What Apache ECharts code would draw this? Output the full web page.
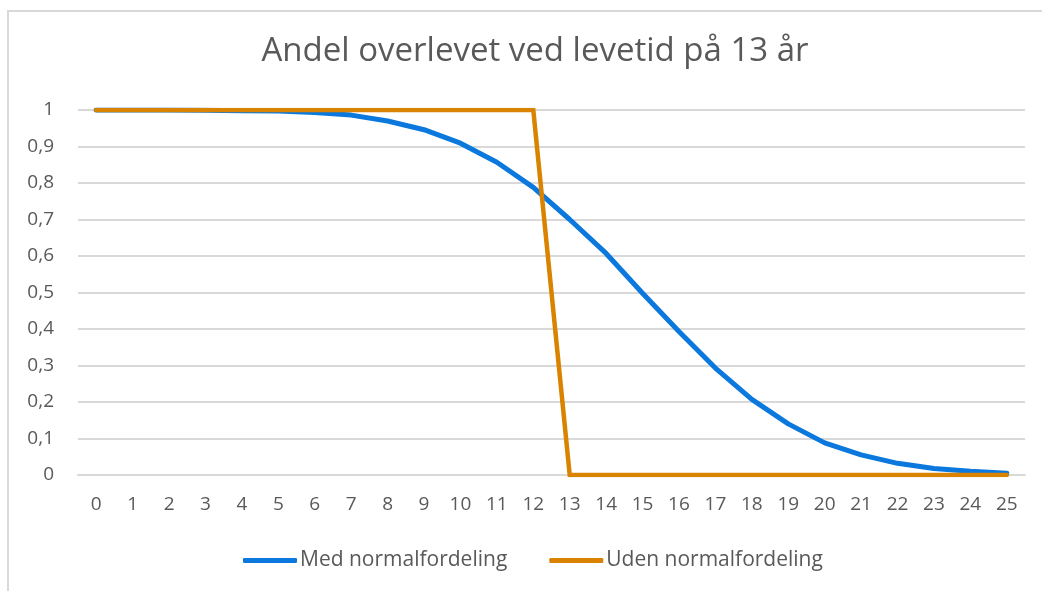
<!DOCTYPE html>
<html>
<head>
<meta charset="utf-8">
<script src="https://cdn.jsdelivr.net/npm/echarts@6/dist/echarts.min.js"></script>
<style>
html,body{margin:0;padding:0;background:#fff;}
#c{width:1042px;height:591px;}
</style>
</head>
<body>
<div id="c"></div>
<script>
const titleText = 'Andel overlevet ved levetid på 13 år';
const years = ['0','1','2','3','4','5','6','7','8','9','10','11','12','13','14','15','16','17','18','19','20','21','22','23','24','25'];
const medNormal = [1, 1, 1, 0.999, 0.998, 0.997, 0.993, 0.986, 0.970, 0.946, 0.909, 0.857, 0.788, 0.700, 0.607, 0.498, 0.393, 0.293, 0.207, 0.140, 0.088, 0.055, 0.032, 0.018, 0.010, 0.005];
const udenNormal = [1, 1, 1, 1, 1, 1, 1, 1, 1, 1, 1, 1, 1, 0, 0, 0, 0, 0, 0, 0, 0, 0, 0, 0, 0, 0];
const seriesNames = ['Med normalfordeling', 'Uden normalfordeling'];
const yTickLabels = ['0', '0,1', '0,2', '0,3', '0,4', '0,5', '0,6', '0,7', '0,8', '0,9', '1'];

const FONT = '"Open Sans"';
const TXT = '#595959';
const chart = echarts.init(document.getElementById('c'), null, {renderer: 'canvas'});
chart.setOption({
  backgroundColor: '#fff',
  animation: false,
  title: {
    text: titleText,
    left: 530, top: 30, textAlign: 'center',
    textStyle: {fontFamily: FONT, fontSize: 33, fontWeight: 'normal', color: TXT}
  },
  graphic: [{
    type: 'rect', silent: true,
    shape: {x: 8, y: 11, width: 1200, height: 800},
    style: {fill: 'none', stroke: '#d9d9d9', lineWidth: 2}
  }],
  legend: {
    left: 238, top: 545,
    itemWidth: 54, itemHeight: 5, itemGap: 42,
    icon: 'roundRect',
    textStyle: {fontFamily: FONT, fontSize: 21, color: TXT, padding: [0, 0, 0, -2]},
    data: seriesNames
  },
  grid: {left: 78, right: 17, top: 110, bottom: 116, containLabel: false},
  xAxis: {
    type: 'category', data: years, boundaryGap: true,
    axisLine: {show: true, lineStyle: {color: '#d9d9d9', width: 2}},
    axisTick: {show: false},
    axisLabel: {fontFamily: FONT, fontSize: 19, color: TXT, margin: 20, interval: 0}
  },
  yAxis: {
    type: 'value', min: 0, max: 1, interval: 0.1,
    axisLine: {show: false}, axisTick: {show: false},
    splitLine: {lineStyle: {color: '#d9d9d9', width: 2}},
    axisLabel: {
      fontFamily: FONT, fontSize: 19, color: TXT, margin: 24,
      formatter: v => yTickLabels[Math.round(v * 10)]
    }
  },
  series: [
    {name: seriesNames[0], type: 'line', data: medNormal, symbol: 'none', smooth: false,
     itemStyle: {color: '#0a78dc'},
     lineStyle: {color: '#0a78dc', width: 5, cap: 'round', join: 'round'}},
    {name: seriesNames[1], type: 'line', data: udenNormal, symbol: 'none', smooth: false,
     itemStyle: {color: '#d98300'},
     lineStyle: {color: '#d98300', width: 4.5, cap: 'round', join: 'miter'}}
  ]
});
</script>
</body>
</html>
